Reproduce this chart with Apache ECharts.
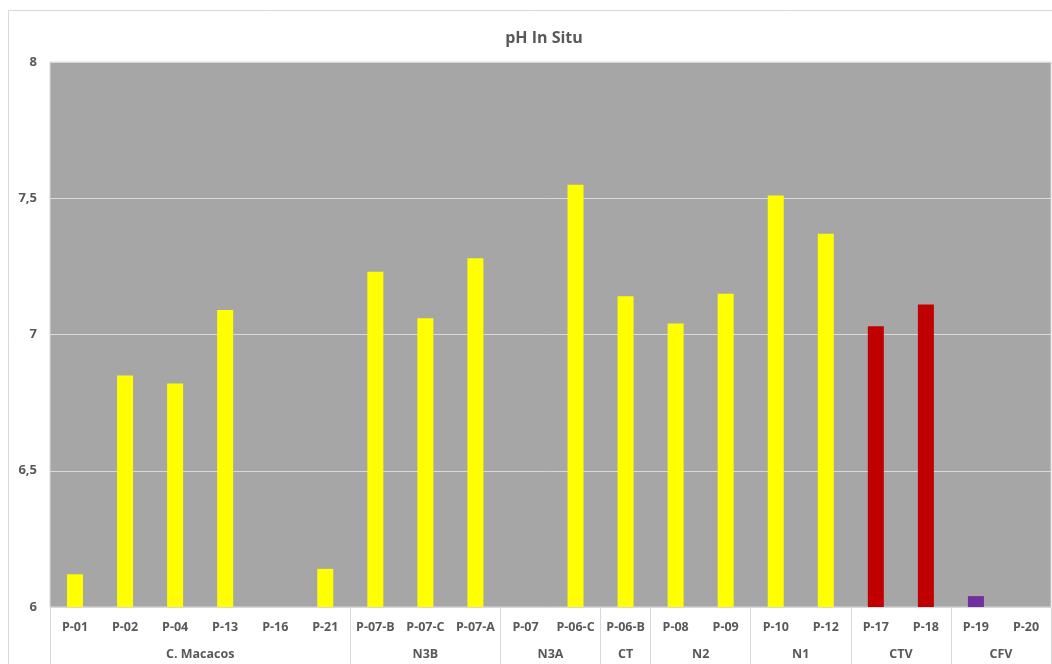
<!DOCTYPE html>
<html>
<head>
<meta charset="utf-8">
<script src="https://cdn.jsdelivr.net/npm/echarts@6/dist/echarts.min.js"></script>
<style>
  html, body { margin: 0; padding: 0; background: #ffffff; }
  #chart { width: 1052px; height: 664px; }
</style>
</head>
<body>
<div id="chart"></div>
<script>
// Sampling points, in plot order
const categories = ['P-01', 'P-02', 'P-04', 'P-13', 'P-16', 'P-21',
  'P-07-B', 'P-07-C', 'P-07-A', 'P-07', 'P-06-C', 'P-06-B',
  'P-08', 'P-09', 'P-10', 'P-12', 'P-17', 'P-18', 'P-19', 'P-20'];

// pH measured in situ (null = no measurement)
const phValues = [6.12, 6.85, 6.82, 7.09, null, 6.14,
  7.23, 7.06, 7.28, null, 7.55, 7.14,
  7.04, 7.15, 7.51, 7.37, 7.03, 7.11, 6.04, null];

// Groups of points and how many points each one holds
const groupNames = ['C. Macacos', 'N3B', 'N3A', 'CT', 'N2', 'N1', 'CTV', 'CFV'];
const groupSizes = [6, 3, 2, 1, 2, 2, 2, 2];

// Bar colour per group
const groupColors = ['#ffff00', '#ffff00', '#ffff00', '#ffff00', '#ffff00', '#ffff00', '#c00000', '#7030a0'];

// Y axis tick labels
const yTicks = [6, 6.5, 7, 7.5, 8];

// Group boundaries and centres on a 0..N scale aligned with the categories
const boundaries = [0];
const centres = [];
groupSizes.forEach(function (n) {
  const start = boundaries[boundaries.length - 1];
  centres.push(start + n / 2);
  boundaries.push(start + n);
});

// Colour of each bar from its group
const barColors = [];
groupSizes.forEach(function (n, g) {
  for (let i = 0; i < n; i++) barColors.push(groupColors[g]);
});

const textColor = '#595959';
const lineColor = '#d9d9d9';
const fontFamily = '"Open Sans", "Noto Sans", sans-serif';

const chart = echarts.init(document.getElementById('chart'), null, { renderer: 'canvas' });

chart.setOption({
  backgroundColor: '#ffffff',
  animation: false,
  title: {
    text: 'pH In Situ',
    left: 539,
    textAlign: 'center',
    top: 25,
    textStyle: { color: textColor, fontSize: 16, fontWeight: 'bold', fontFamily: fontFamily }
  },
  graphic: [{
    type: 'rect',
    shape: { x: 8.5, y: 10.5, width: 1100, height: 700 },
    style: { fill: 'none', stroke: lineColor, lineWidth: 1 },
    silent: true,
    z: -1
  }],
  grid: {
    left: 50,
    right: 1,
    top: 62,
    bottom: 57,
    show: true,
    backgroundColor: '#a6a6a6',
    borderColor: lineColor,
    borderWidth: 1
  },
  xAxis: [{
    type: 'category',
    data: categories,
    position: 'bottom',
    axisLine: { show: true, lineStyle: { color: lineColor } },
    axisTick: { show: false },
    axisLabel: {
      interval: 0,
      margin: 14,
      color: textColor,
      fontSize: 12.5,
      fontWeight: 'bold',
      fontFamily: fontFamily
    },
    splitLine: { show: false }
  }, {
    type: 'value',
    min: 0,
    max: categories.length,
    position: 'bottom',
    axisLine: { show: false },
    splitLine: { show: false },
    axisTick: {
      show: true,
      customValues: boundaries,
      length: 58,
      lineStyle: { color: lineColor, width: 1 }
    },
    axisLabel: {
      show: true,
      customValues: centres,
      margin: 41,
      color: textColor,
      fontSize: 12.5,
      fontWeight: 'bold',
      fontFamily: fontFamily,
      formatter: function (v) {
        const idx = centres.indexOf(v);
        return idx >= 0 ? groupNames[idx] : '';
      }
    }
  }],
  yAxis: {
    type: 'value',
    min: yTicks[0],
    max: yTicks[yTicks.length - 1],
    interval: 0.5,
    axisLine: { show: false },
    axisTick: { show: false },
    axisLabel: {
      margin: 13,
      color: textColor,
      fontSize: 13,
      fontWeight: 'bold',
      fontFamily: fontFamily,
      formatter: function (v) { return String(v).replace('.', ','); }
    },
    splitLine: { show: true, lineStyle: { color: lineColor, width: 1 } }
  },
  series: [{
    type: 'bar',
    xAxisIndex: 0,
    yAxisIndex: 0,
    barWidth: 16,
    data: phValues.map(function (v, i) {
      return { value: v, itemStyle: { color: barColors[i] } };
    })
  }]
});
</script>
</body>
</html>
